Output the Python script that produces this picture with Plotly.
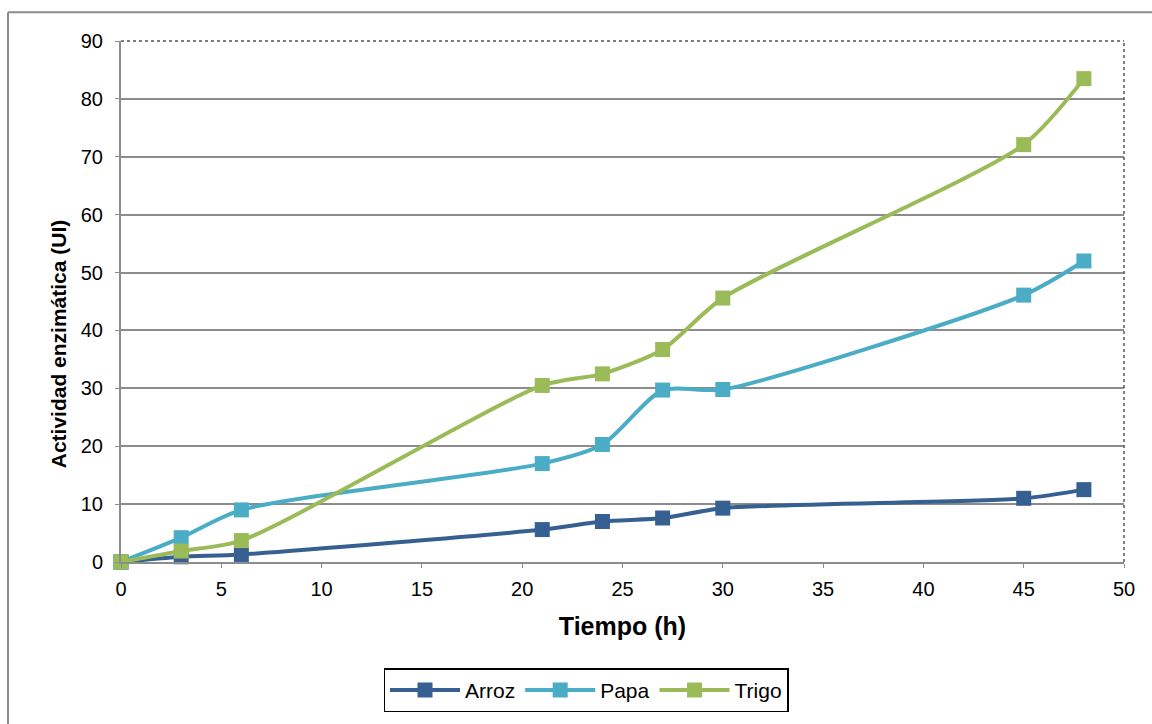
import plotly.graph_objects as go

# Sampling times (hours)
tiempo = [0, 3, 6, 21, 24, 27, 30, 45, 48]

# Enzymatic activity (UI) per substrate
arroz = [0, 0.9, 1.3, 5.6, 7.0, 7.6, 9.3, 11.0, 12.5]
papa = [0, 4.2, 9.0, 17.0, 20.3, 29.7, 29.8, 46.1, 52.0]
trigo = [0, 1.9, 3.7, 30.5, 32.5, 36.7, 45.6, 72.1, 83.5]

series_names = ["Arroz", "Papa", "Trigo"]
series_values = [arroz, papa, trigo]
series_colors = ["#376092", "#4BACC6", "#9BBB59"]

x_ticks = [0, 5, 10, 15, 20, 25, 30, 35, 40, 45, 50]
y_ticks = [0, 10, 20, 30, 40, 50, 60, 70, 80, 90]

FONT = "Liberation Sans, Arial, sans-serif"

fig = go.Figure()
for name, vals, color in zip(series_names, series_values, series_colors):
    fig.add_trace(go.Scatter(
        x=tiempo, y=vals, name=name,
        mode="lines+markers",
        line=dict(color=color, width=4, shape="spline", smoothing=0.7),
        marker=dict(symbol="square", size=15, color=color),
        cliponaxis=False,
    ))

W, H = 1152, 724
L, R, T, B = 121, 28, 41, 159
pw, ph = W - L - R, H - T - B


def px_x(px):
    return (px - L) / pw


def px_y(py):
    return (H - B - py) / ph


shapes = [
    # dotted top and right edges of the plotting area
    dict(type="line", xref="paper", yref="paper", x0=0, x1=1, y0=1, y1=1,
         line=dict(color="#555555", width=1.5, dash="dot")),
    dict(type="line", xref="paper", yref="paper", x0=1, x1=1, y0=0, y1=1,
         line=dict(color="#555555", width=1.5, dash="dot")),
    # chart frame
    dict(type="line", xref="paper", yref="paper", x0=px_x(8), x1=px_x(W + 5),
         y0=px_y(12), y1=px_y(12), line=dict(color="#8c8c8c", width=2)),
    dict(type="line", xref="paper", yref="paper", x0=px_x(8), x1=px_x(8),
         y0=px_y(12), y1=px_y(H + 5), line=dict(color="#8c8c8c", width=2)),
]

annotations = [
    dict(text="<b>Actividad enzimática (UI)</b>", textangle=-90,
         xref="paper", yref="paper", x=px_x(58), y=px_y(346),
         xanchor="center", yanchor="middle", showarrow=False,
         font=dict(size=21, family=FONT, color="black")),
]

fig.update_layout(
    width=W, height=H,
    margin=dict(l=L, r=R, t=T, b=B),
    paper_bgcolor="white", plot_bgcolor="white",
    font=dict(family=FONT, size=19, color="black"),
    shapes=shapes,
    annotations=annotations,
    showlegend=True,
    legend=dict(
        orientation="h", x=px_x(586), y=px_y(694),
        xanchor="center", yanchor="middle",
        bordercolor="black", borderwidth=1.5,
        font=dict(size=21, family=FONT),
        itemwidth=70,
    ),
    xaxis=dict(
        range=[0, 50], tickvals=x_ticks, showgrid=False, zeroline=False,
        showline=True, linecolor="#8c8c8c", linewidth=2,
        ticks="outside", ticklen=4, tickcolor="#8c8c8c",
        ticklabelstandoff=4,
        tickfont=dict(size=20, family=FONT),
        title=dict(text="<b>Tiempo (h)</b>", font=dict(size=25, family=FONT), standoff=18),
    ),
    yaxis=dict(
        range=[0, 90], tickvals=y_ticks, showgrid=True, gridcolor="#8c8c8c",
        gridwidth=2, zeroline=False,
        showline=True, linecolor="#8c8c8c", linewidth=2,
        ticks="outside", ticklen=4, tickcolor="#8c8c8c",
        ticklabelstandoff=8,
        tickfont=dict(size=20, family=FONT),
    ),
)

fig.write_html("out.html")
